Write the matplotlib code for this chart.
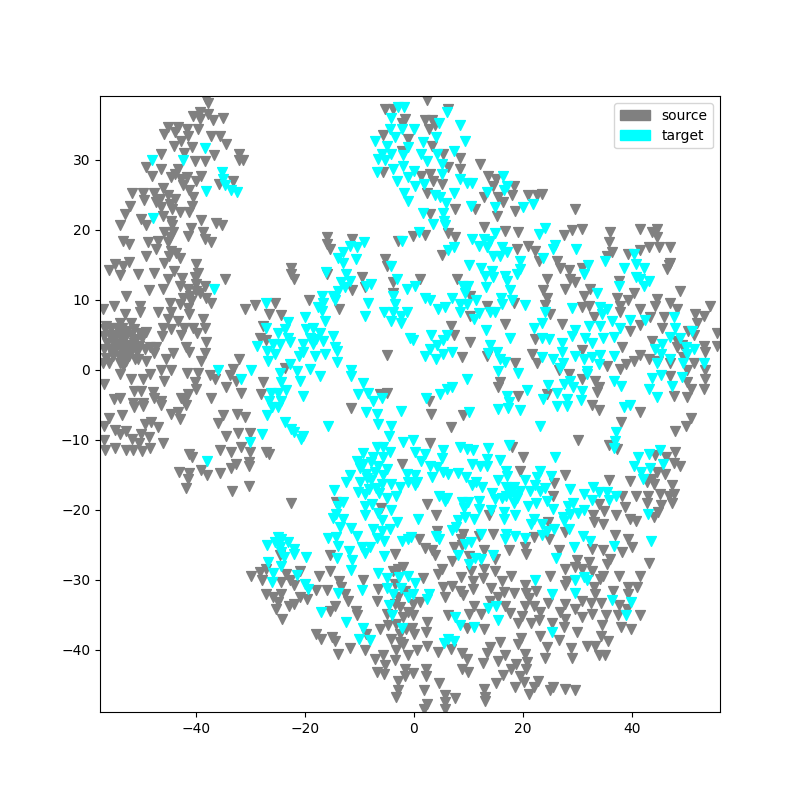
import numpy as np
import matplotlib
matplotlib.use("Agg")
import matplotlib.pyplot as plt
import matplotlib.patches as mpatches

source_upper_left = [(-38.2,38.7),(-37.8,38.1),(-39.3,36.8),(-40.5,36.3),(-39.3,35.8),(-37.8,36.5),(-35,35.9),(-36.9,35.6),(-45.1,34.6),(-43.3,34.6),(-41.6,34.4),(-39.6,34.4),(-45.8,33.7),(-43.9,33.9),(-41.5,33.4),(-37.2,33.4),(-35.6,33.4),(-42.7,32.7),(-44.1,32),(-34.5,32.2),(-40.8,31.8),(-42.1,31),(-46.4,30.8),(-36.7,30.6),(-32.1,30.8),(-32,29.9),(-31.4,29.9),(-40.2,29.8),(-38.4,29.8),(-49.1,29),(-46.4,28.7),(-43.3,28.7),(-44.5,27.5),(-48.1,27.6),(-42.7,27.2),(-39,27.7),(-39.9,27),(-33.2,27),(-35.8,26.5),(-46,26),(-41.2,25.6),(-51.8,25.3),(-49.7,25.2),(-47.6,25.3),(-49.6,24.3),(-45.1,24.9),(-43.9,24.4),(-40.5,24.6),(-47.3,23.9),(-44.8,23.7),(-52.1,23.4),(-40.7,23.4),(-46.4,23.3),(-43,22.5),(-41.2,22.5),(-53.1,22.2),(-50,21.5),(-46,22),(-39,21.4),(-53.9,20.7),(-49.1,20.6),(-36.3,21),(-35.2,20.6),(-44.3,20.6),(-40.9,20.3),(-45.8,19.6),(-38.7,19.6),(-41.5,19.1),(-44.8,18.9),(-53.4,18.4),(-52.2,18),(-48.8,18.2),(-47,18.4),(-45.1,18.2),(-37.2,18.2),(-38.4,18.6),(-47.3,17.2),(-44.5,17),(-49.1,16.3),(-43.6,16.7),(-43,15.9),(-45.8,15.3),(-52.2,15.4),(-54.8,15.1),(-39.9,15.1),(-56,14.3),(-53.3,14.8),(-54,13.5),(-50.7,13.7),(-47.6,13.8),(-44.1,14.1),(-42.5,13.1),(-40.2,13.2),(-34.7,13),(-45.1,12.9),(-43,12),(-39.9,12.2),(-38.4,12),(-41.5,11.5),(-46.1,11.5),(-48.6,11.4),(-39.3,11),(-52.8,10.6),(-42.4,10.3),(-38.1,10.3),(-44.8,9.6),(-40.9,9.8),(-37.2,9.5),(-55.1,9.1),(-50.3,9.1),(-57,8.7),(-43,9.4),(-47,8.2),(-44.5,8.2),(-50.3,8.3),(-41.2,7.9),(-53.1,7.9),(-45.1,7.2),(-38.7,7.2),(-43.3,7),(-54,6.7),(-51.9,6.7),(-56.5,6.3),(-46.1,6),(-42.1,6),(-40.5,6),(-38.4,6),(-44.5,5.8),(-40,11.2),(-41,10.6),(-41.4,8.8),(-39.6,13.8),(-44.4,22.9),(-46.6,24.4),(-44.6,21.3),(-44.2,19.7),(-45,16.2),(-39.8,5.2),(-42.8,5),(-46.2,4.8),(-43.8,27.9),(-41.7,27.5),(-42.3,26.4)]

source_dense_left = [(-56.6,5.8),(-55.5,6),(-54.5,5.9),(-53.5,6),(-52.6,5.6),(-51.4,5.8),(-50.3,5.2),(-49.2,5.4),(-56.8,4.8),(-55.8,5),(-54.9,4.8),(-54,5),(-53,4.7),(-52,4.9),(-51,4.4),(-49.9,4.6),(-56.4,3.8),(-55.2,4),(-54.3,3.7),(-53.3,4),(-52.4,3.6),(-51.4,3.8),(-50.4,3.4),(-56.9,3),(-55.8,3),(-54.8,2.8),(-53.8,3),(-52.8,2.7),(-51.8,2.9),(-50.8,2.5),(-49.4,2.9),(-55.2,2),(-54.2,2),(-53.2,1.9),(-52.2,2),(-51.2,1.6),(-56.5,1.7),(-54,1),(-52.8,1.2),(-48.5,3.2)]

source_lower_left = [(-38.1,3.9),(-41.9,3.2),(-41.2,2.5),(-38.4,2.4),(-47.3,3.2),(-47.6,2.4),(-44.2,2.4),(-45.4,1.5),(-39.1,1.3),(-49.1,1.3),(-50.7,1.5),(-55.9,1),(-57.1,1),(-53.4,0.6),(-48.5,-0.6),(-46.4,-0.1),(-44.5,-0.1),(-41.6,-0.4),(-39.6,-0.4),(-37.5,-0.8),(-54,-0.6),(-45.8,-1.6),(-52,-1.3),(-49.7,-1.3),(-56.8,-2.1),(-40.2,-1.8),(-39.9,-2.8),(-51.3,-3),(-50,-3),(-47.9,-3.2),(-41.5,-3.5),(-53.9,-4),(-55.1,-4.2),(-42.7,-4),(-37.2,-4.1),(-47.6,-4),(-51.6,-4.7),(-49.7,-4.7),(-46.4,-4.4),(-42.1,-4.4),(-51.3,-5.3),(-49.7,-5.2),(-46.4,-5),(-41.9,-5.1),(-55.9,-6.9),(-53.5,-6.4),(-56.8,-8),(-54.9,-8.6),(-52.8,-8.8),(-53.9,-9.2),(-49.4,-7.7),(-48.2,-7.5),(-47,-8.2),(-50,-9.2),(-48.6,-9.6),(-51.8,-9.9),(-56.8,-10.1),(-46,-10.5),(-54.8,-11.2),(-56.6,-11.5),(-52.8,-11.5),(-51.6,-11.4),(-49.9,-11.6),(-48.5,-11.2),(-50.5,-10.5),(-44.5,-6.3),(-43.3,-6.1),(-43,-7),(-35,-6.5),(-35.9,-7.6),(-32.5,-6.3),(-31,-6.8),(-34.5,-9.4),(-32.3,-9.1),(-30.1,-9.1),(-35.6,-11.4),(-33.6,-11.8),(-31.7,-11.1),(-30.1,-11.7),(-27.2,-11.7),(-26.6,-12.1),(-41.2,-12),(-40.8,-12.4),(-30.3,-13.2),(-30.3,-13.8),(-32.7,-13.4),(-33.5,-14),(-43.1,-14.6),(-41.3,-14.7),(-39,-14.3),(-38,-15),(-35.6,-14.7),(-41.5,-15.6),(-41.9,-16.9),(-33.3,-17.3),(-30.3,-16.6),(-22.5,-19),(-11.6,-5.4),(-36.5,-1.3),(-33.8,-0.8)]

source_middle = [(-16,18.9),(-11.4,18.7),(-16,18),(-15.4,17.2),(-2.9,18.4),(-5.3,15.8),(-5,14.8),(-22.6,14.6),(-22.6,13.7),(-21.9,12.9),(-16,13.7),(-9.6,13.2),(-11.3,11.4),(-9,11.8),(-3.9,11),(-3.8,12.5),(-19.2,10),(-13.8,8.7),(-25.5,9.6),(-29.2,9.2),(-30.9,8.7),(-26.6,7.9),(-24.3,7.8),(-27.6,6.2),(-28.3,4.6),(-27.1,4.3),(-5,2.1),(-32.1,1.5),(-33.2,0.1),(-23.7,0.3),(-32.6,-1.6),(-27.6,-1.8),(-34.5,-2.5),(-31.7,-3.3),(-28,-3.4),(-6.2,-3.5),(-5,-3.3),(-5.3,37.2),(-3.8,37.2),(-1.6,35.8),(-2.2,35.3),(-5.6,33.5),(-2.2,31.3),(-5.6,28.2),(-1,33)]

source_upper_right = [(2.4,38.6),(6.2,37.2),(2.1,35.6),(3.3,35.6),(3.9,34.9),(2.7,34.4),(3.3,32),(5.4,30.8),(8.4,30.3),(12.2,29.4),(6.3,28.9),(8.5,28.7),(13.6,27.7),(3,27.9),(1.4,27.7),(5.1,26.5),(3.6,27),(15.1,27.2),(14.6,26.3),(18.3,26.2),(18,24.9),(23.5,25.1),(22.6,24.9),(21,24.9),(12.8,24.6),(15.5,24.6),(16.3,23.9),(2.4,25.2),(7.6,23),(11.2,23),(18.6,22.7),(29.6,23),(15.2,22),(3,22.2),(12.8,20.4),(16.8,19.8),(19.2,19.6),(30.9,20.1),(29,20),(36,19.7),(41.6,20.1),(44.6,20.1),(43.7,19.6),(27.5,19.2),(6.3,19.5),(2.1,19.2),(-0.2,19.1),(7.6,18.9),(35.8,18.2),(44.6,18.9),(21,17.6),(22.3,17),(19,17.3),(5.2,16.4),(47.1,17.5),(45,17.5),(43.1,17.5),(41.6,17.1),(36.4,16.8),(35.5,16.3),(22.9,15.6),(26.3,15.6),(39.4,16.5),(47.1,15.3),(46.5,14.4),(46.9,15),(26.9,14.6),(28.4,14.3),(30.9,14.6),(7.9,13),(1.1,12.9),(28.7,13),(24.4,12.9),(29.6,12.5),(37.6,12.7),(27.8,11.5),(23.8,11.4),(48.8,11.3),(32.4,11.5),(40.4,11),(31.2,10.6),(24.4,10.3),(37.3,10.3),(44.6,10.1),(39.4,10),(47.1,9.5),(54.4,9.1),(10.3,10.6),(13.5,9.1),(18.3,9.5),(24.1,9.2),(30.9,8.9),(32.1,9.1),(37.9,9.1),(41.6,8.7),(44.3,9.1),(48.3,8.7),(37.9,8.2),(10.3,7.7),(25,7.9),(33,7.6),(51.7,7.9),(53.2,7.7),(43.4,7.5),(45.9,7.5),(16.8,6.6),(27.2,6.5),(41.6,6.4),(45.6,6),(52,6.7),(6.8,6.2),(39.7,5.6),(55.7,5.3),(51.4,4.9),(7.3,4.9),(10.3,4),(22.3,4.4),(43.7,4.1),(48.3,4.1),(53.2,3.4),(55.7,3.4),(48.3,3.2),(53.5,2.5),(38.2,3.2),(30.9,2.8),(21.7,2.2),(41.6,2.1),(22.6,1),(8.8,1.8),(13.4,2),(18.6,1),(40.4,1.3),(43.1,1.5),(51.4,1),(47.1,1),(35.5,0.6),(37.8,0.1),(26.6,-0.1),(53.5,-0.1),(50.2,-0.1),(28.4,-0.6),(47.1,-0.9),(53.5,-1.3),(30.9,-1.3),(33.3,-1.6),(15.8,-1.8),(15.4,-2.5),(33.9,-2.5),(50.2,-1.8),(50.8,-2.8),(53.2,-2.8),(47.7,-3.7),(19.2,-3.7),(24.4,-3.5),(50.2,-3.9),(33.6,-3.2),(2.7,-4.4),(49.5,1.8),(49.2,3.6),(44.9,1.2),(50.4,5.5),(39,0.8)]

source_lower_middle = [(-29.8,-29.4),(-28.3,-28.9),(-27.2,-28.4),(-27.9,-30.1),(-20.9,-28.7),(-23.5,-29.2),(-24.3,-30.3),(-22.8,-30.1),(-22,-30.8),(-27.2,-32.1),(-25.8,-32.5),(-24.3,-32),(-24.9,-33.2),(-25.3,-34.2),(-22.9,-33.7),(-20.9,-32.5),(-21.9,-33.4),(-19.6,-32.7),(-17.9,-31.5),(-24.2,-35.6),(-17.4,-29.4),(-15.4,-28.8),(-15.9,-31.4),(-13.7,-30.2),(-13.4,-31),(-12.7,-32.1),(-12,-33),(-9.4,-30.1),(-14.5,-33.7),(-15.4,-34.5),(-10.6,-34.4),(-10.4,-35.1),(-6.5,-31.3),(-6.8,-33),(-5,-34.9),(-17.9,-37.8),(-17,-38.4),(-15.1,-38.2),(-14.5,-38.8),(-11.7,-39.7),(-13.9,-40.6),(-9,-40),(-8.7,-37.7),(-6.2,-37),(-4.7,-36.5),(-4.1,-38.4),(-2.5,-38.9),(-3.2,-40.1),(-1,-40.8),(-5.6,-40.8),(-7.1,-41.3),(-3.5,-41.5),(-5.3,-42.2),(-6.8,-43.2),(-5.5,-43.4),(-1.6,-42.7),(-2.9,-44.4),(-1.6,-43.7),(-2.9,-45.8),(-3.2,-46.8),(-1.9,-35.3),(-2.5,-33.9),(-1,-34.6),(-2.9,-32.5),(-3.5,-30.6),(-2.9,-28.4),(-3.8,-28.7),(-1.9,-28.2),(-3.5,-26.3),(-15.4,-26.5),(-6,-19.7),(-2.2,-13.5),(-14.3,-18.9),(-24.6,-26.5),(-3.2,-36.3),(-1.4,-37),(-3.5,-33.5),(-1.6,-31.6),(-2,-39.2),(-2.6,-37.8)]

source_lower_right = [(3.2,-6.3),(9.1,-6.5),(6.8,-8.2),(33.9,-5.7),(32.7,-5.1),(41.5,-6),(38,-7.5),(50.9,-6.9),(49.9,-8.1),(47.9,-8.8),(30.1,-10),(35.8,-10.8),(37.3,-11.3),(18.1,-11.1),(2.9,-10.5),(20,-12.5),(48,-11.8),(44.3,-12.2),(46.2,-12.5),(47.7,-13.3),(48.8,-13.8),(46.1,-14.9),(44.6,-14.6),(43.7,-15.6),(42.8,-16.1),(44,-16.3),(47.4,-16.4),(19.5,-14.5),(27.7,-15),(35.9,-15.7),(39.7,-15.9),(25.8,-16.2),(25.5,-18.1),(38.2,-18.1),(40.8,-18.1),(42.9,-18.1),(45.1,-17.8),(46.8,-18),(47.7,-17.7),(33.9,-19.2),(42.8,-19.1),(47.4,-19.1),(45.4,-19.3),(38.8,-19.6),(35,-20.2),(37.1,-20.8),(32.9,-20.8),(44.9,-20.3),(44,-21),(39.6,-21.3),(40.8,-21.6),(33.1,-21.8),(34.8,-22.1),(2.5,-19.2),(4,-20.8),(13.8,-20.8),(24.6,-21.8),(4.2,-23.1),(9.1,-23.5),(11.9,-23.8),(14.5,-23.4),(22,-23.9),(24.9,-24.2),(27.8,-23.2),(37,-23.6),(39.3,-24.2),(1,-24.2),(8.6,-24.2),(2.1,-25.4),(3.3,-25.8),(3.8,-26.5),(7.4,-25.3),(8.8,-25.1),(12.8,-25.8),(17.5,-25.7),(20.4,-25.3),(20.6,-26.3),(26.7,-25.7),(32.7,-25.6),(34.7,-25.7),(38.2,-26),(40,-25.3),(7,-27.3),(10.2,-26.6),(14.9,-27.1),(29.9,-27.2),(32.1,-27.4),(36.1,-27.1),(43.1,-27.6),(27.8,-28.4),(29.6,-28.2),(30.9,-28.5),(35.5,-27.7),(5.1,-28.5),(12.8,-28.5),(14.9,-28.8),(10.5,-28.8),(4.5,-29.2),(32.7,-28.7),(34.8,-29.4),(37.7,-29.5),(41.5,-29.5),(25,-29.4),(8.7,-29.6),(12.7,-29.7),(17.8,-29.5),(1.6,-29.7),(16.1,-30.2),(28.1,-30.2),(34.2,-29.9),(10.8,-30.2),(5.4,-31.1),(7.1,-30.9),(14.2,-31.2),(20.4,-30.7),(27.8,-30.8),(33,-31.1),(39.4,-31),(41,-31.1),(8.4,-31.6),(10.8,-31.3),(16.5,-31.8),(18.3,-31.9),(22.5,-31.6),(20.6,-31.9),(36.5,-31.6),(9.1,-32.2),(5.7,-32.5),(15.5,-32.4),(30.9,-33),(33.3,-32),(39.3,-32),(21.2,-32.6),(14,-33),(24.6,-33.3),(27.8,-33.4),(32.6,-33.3),(34.3,-33.3),(1.1,-33.2),(-0.2,-33.4),(16.8,-33.8),(20.4,-33.7),(22.1,-33.7),(11.1,-33.8),(37.6,-33.6),(29.6,-34.2),(39.1,-34.2),(26.8,-34.6),(17.7,-34.7),(10.2,-34.9),(12.3,-34.9),(23.1,-34.6),(6.3,-35.1),(-0.2,-35),(41.6,-35),(35.3,-35.1),(32.7,-34.9),(30.9,-35.3),(37.4,-35.1),(19.8,-35.2),(27.8,-35.6),(22.9,-35.7),(2.4,-36.1),(21.5,-36.2),(19.1,-36.2),(25.3,-36.2),(34.5,-36.4),(27.6,-36.8),(-0.4,-36.9),(9.7,-36.9),(12.8,-37),(38,-36.8),(39.9,-37.1),(2.2,-37.5),(0,-37.7),(29.9,-37.4),(34.3,-38),(23.1,-38),(19.7,-38.3),(26.7,-38.6),(35.6,-38.7),(15.8,-38.9),(19.2,-39.2),(2.4,-39.4),(31.8,-39.4),(33.3,-39.4),(0.5,-40),(6.8,-39.9),(4.4,-40.3),(13.9,-39.6),(28.9,-39.7),(24.4,-39.6),(8.8,-40.5),(13.4,-40.5),(16.8,-40.8),(20.4,-40.6),(24.1,-41.2),(29,-41.2),(33.9,-40.8),(35.1,-40.8),(9.7,-41.3),(15.5,-41.6),(12.7,-41.9),(18.8,-42.1),(20.7,-41.8),(2.2,-42.7),(8.8,-42.7),(17.9,-42.8),(20.6,-42.8),(10,-43.2),(-0.2,-43.3),(2.2,-43.7),(16.3,-43.6),(19.5,-43.8),(22.8,-44.4),(4.6,-44.8),(15.1,-44.7),(20.3,-44.6),(22.1,-45.3),(25.6,-45.3),(27.8,-45.6),(29.6,-45.7),(12.9,-45.6),(18.6,-45.3),(1.8,-45.8),(25,-45.8),(21.2,-46.3),(5.7,-46.5),(7.6,-46.9),(13.1,-46.8),(5.7,-47.5),(2.5,-47.7),(1.9,-48.4),(5.7,-48.4),(13.1,-47.3)]

target_upper_left = [(-38.4,31.7),(-48.1,29.9),(-42.4,30),(-35.2,28.2),(-35,27.2),(-34.7,26.4),(-33.5,25.7),(-32.4,25.4),(-38.2,25.5),(-47.9,21.7),(-36.6,11.5),(-27.2,9.5)]

target_upper_center = [(-2.9,37.5),(-1.8,37.5),(-4.1,36),(-4.4,34.4),(-2.2,34.4),(-3.5,33.2),(-7.2,32.7),(-5,32),(-1,31.8),(-5.9,30.8),(-4.1,30.8),(-1.9,30.6),(-6.5,30.1),(-5.3,29.9),(-1.9,29.1),(-3.8,28.7),(-6.7,28.2),(-1,27.5),(-3,27),(-1.8,25.3),(-1,24.1),(6,36.8),(4.7,35.3),(8.5,35),(0,34.4),(9.4,32.7),(4.1,33.2),(1.6,32.5),(7.3,31.3),(4.2,30.8),(1.4,30.8),(2.4,29.8),(5.1,29.4),(0,28.4),(5.1,28),(8.5,27.2),(16.3,27.7),(10.6,26.7),(9.7,26.7),(17.1,26.3),(1.8,26.5),(0.2,26.3),(7.4,25.3),(13.5,25.4),(16.5,25.6),(3.9,24.9),(4.8,24.6),(5.9,23.8),(10.5,23.4),(14.9,23.2),(20.1,23.3),(21.9,23.7),(1.6,22.4),(5.4,22.4),(5.6,21.3),(3.5,20.8),(5.7,20.6)]

target_mid_left = [(-9.2,18.2),(-11.7,17.7),(-10.5,17.5),(-13,16.8),(-13.9,15.9),(-10.6,15.8),(-13,15.3),(-2.1,18.4),(-4.1,14.8),(-16.2,13.9),(-12.4,13.7),(-11.7,12.7),(-13.3,12.6),(-7.8,12.2),(-8.8,11.9),(-3,13),(-12.7,11.8),(-13.9,11.3),(-14.8,10.6),(-16.9,10.6),(-1.3,11.6),(-3.9,10.5),(-8.4,9.6),(-14.5,10),(-16.6,9.5),(-17.6,9),(-16.9,8.4),(-3.5,9.4),(-5.4,8.3),(-8.9,7.7),(-20,7.5),(-3.8,8.2),(-2.3,7.7),(-1.3,8.2),(-4.1,7),(-2.3,6.7),(-23.1,6.8),(-16.3,6.9),(-27.2,5.9),(-23.7,5.8),(-18.5,6),(-19.7,5.8),(-24.9,5.2),(-17.3,5.3),(-14.9,4.8),(-23.1,4.6),(-19.1,4.6),(-17.9,4.4),(-0.7,4.5),(-25.8,3.7),(-24.6,3.7),(-22.8,3.9),(-20.3,3.7),(-18.5,3.7),(-14.5,3.2),(-28.7,3.4),(-16.6,4.1),(-26.9,2.7),(-14.1,2.7),(-25.5,2.2),(-20.3,2.5),(-18.2,2),(-16.3,2.2),(-21,1.9),(-26.8,1.3),(-14.1,1.1),(-22.8,0.8),(-19.1,0.1),(-21.5,-0.2),(-35.9,0),(-29.9,-0.1),(-17.3,-0.9),(-11.6,-0.1),(-24.6,-0.5),(-31.8,-1.3),(-20.9,-1.6),(-11.6,-0.9),(-24.3,-1.8),(-9.3,-1.9),(-23.4,-2.9),(-26.3,-3.3),(-24.9,-3.3),(-10.2,-3.5),(-8.4,-3.3),(-20.3,-3.7),(-26.5,-4.4),(-24.3,-4.4),(-7.5,-4.4),(-5.9,-4),(-27,-6.5),(-26.1,-5.3),(-24.9,-5.3),(-23.7,-7.5),(-22.5,-8.4),(-22,-8.9),(-20.3,-9.5),(-20.7,-9.9),(-27.8,-9.2),(-15.7,-8.1),(-30.1,-10.3),(-38,-13),(-8.7,-6.1),(-6.7,-6.3),(-6.5,-7.7),(-2.4,-5.9),(-4.1,-8.1),(-4.5,-9.5)]

target_mid_right = [(24.1,20.3),(22.9,19.4),(0.9,19.6),(14.9,19.5),(10.6,18.6),(12.8,18.7),(14,18.4),(26,17.8),(11.9,17.7),(13.4,17.5),(7.3,17.5),(6.3,17.1),(16.1,17.5),(29.8,17.2),(25.5,17.2),(14.6,16.3),(17.1,16.8),(15.8,16.3),(23.8,16),(40.4,16.5),(35.1,15.5),(19.5,15.6),(40.7,15.1),(10.2,15),(12.4,14.6),(32,14.9),(38.5,14.6),(42.2,14.6),(19.5,14.4),(18.9,13.7),(31.2,13.7),(14.3,14.1),(13.1,13.4),(16.8,13.4),(14.6,13.2),(40.7,13.2),(43.1,12.7),(41.6,12.9),(42.2,12),(17.1,12.7),(37.6,12),(9.1,11.9),(10,12),(13.3,11.8),(17.7,11.4),(0.2,11.9),(9.4,11),(33.6,11),(2.1,10.2),(3,10),(7.1,10.3),(16,10.3),(18,10),(11.4,10),(5.7,9),(4.5,8.7),(8.5,9.4),(9.8,9.4),(16.1,9.4),(20.4,9.2),(29,8.8),(34.2,8.9),(35.5,8.7),(8.5,8.2),(11.9,8.1),(11,7.3),(14,8.2),(14.9,8.3),(24.1,8.2),(34.5,7.9),(39.6,7.1),(42.5,7.1),(47.7,7.5),(36.4,7),(23.5,6.7),(22,6),(34.2,6.3),(32.1,6.2),(48,6),(37.9,6),(13.3,5.7),(29.6,5.7),(51.1,5.6),(3.2,4.9),(6,5),(17.7,4.6),(29,4.8),(23.5,4.6),(24.9,4.4),(36.7,4.7),(34.7,4.6),(31.5,4.5),(47.1,4.7),(48.9,4.6),(-0.2,4.2),(5.4,4.2),(14,3.5),(27.2,3.8),(32.7,3.8),(45.6,3.7),(4.2,3.5),(44.3,2.9),(49.9,3.2),(51.4,2.9),(3,3),(27.2,2.6),(13.6,2.4),(15.2,2.5),(2.1,1.9),(7,2.5),(5.4,2.2),(29.6,1.9),(36.7,2),(34.1,2.1),(45.3,2.2),(23.5,1.8),(25.6,1.5),(31.2,1.5),(32.7,1.8),(4.1,1.5),(15.8,1.5),(50.2,2.2),(47.1,1.5),(44.6,1),(53.2,0.9),(27.4,1),(16.8,1.1),(33.9,0.8),(49.5,1),(26.9,0.3),(15.5,-0.2),(31.7,-0.2),(19.2,-0.5),(31.8,-0.6),(9.7,-1.3),(45.4,-0.8),(49.2,-1.1),(43.7,-1.2),(36.7,-1.6),(28.7,-1.6),(27.5,-2.1),(24.6,-2.2),(38,-2.3),(7,-2.4),(6,-2.8),(47.4,-2.3),(29.3,-2.5),(20.7,-2.9),(43.1,-2.8),(30.9,-3),(26.3,-3.3),(4.8,-3.5),(2.2,-4),(17.1,-3.7),(23.8,-4.2),(44.6,-3.9),(28.1,-4.2),(30.6,-4.3),(17.4,-4.6)]

target_lower_left = [(-1.9,-10.3),(-6.8,-11.1),(-5.6,-11),(-4.4,-11.8),(-9.3,-11.9),(-10.5,-13),(-5.6,-12.5),(-7.8,-13.2),(-9.3,-13.4),(-6.5,-13.7),(-5,-14.2),(-9.9,-14.1),(-11.7,-15),(-8.7,-14.9),(-7.2,-14.6),(-1.3,-14.9),(-5.6,-15.1),(-12.4,-16.1),(-9.9,-16.1),(-7.8,-15.8),(-5.9,-16.3),(-4.1,-16.3),(-2.6,-16.8),(-1,-16.1),(-14.6,-17.2),(-10.3,-17.5),(-9,-17.7),(-6.4,-17.6),(-3.2,-18),(-4.9,-18.3),(-13,-18.9),(-13.9,-19.4),(-8.9,-19.4),(-7.6,-19.2),(-6.5,-20.5),(-4.2,-20.1),(-14.2,-20.6),(-9,-20.8),(-14.9,-21.2),(-13,-21.3),(-5.9,-21.5),(-3,-21.8),(-13.6,-22.5),(-11.6,-22.6),(-7.5,-22.7),(-4.3,-22.7),(-5.9,-23),(-10.4,-23.7),(-15.7,-24),(-14.2,-23.9),(-6.8,-24.1),(-5.5,-24.5),(-2.2,-24.4),(-1,-24.2),(-13.9,-25.2),(-9.6,-25.3),(-8.1,-25.3),(-11.9,-25.9),(-9,-26.2),(-5.5,-26.6),(-14.1,-26.9),(-11.3,-27.2),(-11.6,-28.6),(-6.5,-29),(-5,-29.7),(-2.7,-29.6),(-1,-29.4),(-2.4,-31.2),(-5,-31.2),(-9.6,-31.4),(-14,-31.9),(-3.9,-32),(-1,-32.4),(-4.6,-33.6),(-4,-35),(-17.1,-34.6),(-12.5,-36),(-9.4,-36.9),(-2.1,-36.9),(-10,-38.4),(-8.1,-38.6),(-24.9,-23.9),(-24.3,-24.2),(-27,-25.1),(-25.5,-24.6),(-23.1,-24.6),(-24.6,-25.3),(-21.9,-25.6),(-24.3,-26.1),(-22,-26.3),(-23.9,-26.7),(-19.8,-26.8),(-26.8,-27.5),(-24.4,-28.1),(-25.9,-29.1),(-26,-30.3),(-21.4,-29.3),(-20,-30.6),(-19.4,-31.3),(-8.6,-15.5),(-6.9,-16.9),(-8.2,-17.1),(-7.4,-12.4),(-25,-24.8)]

target_lower_right = [(10.2,-6.1),(15.5,-5.6),(17.3,-5.4),(19.5,-5.8),(26.3,-5.2),(28.1,-5.2),(38.5,-5.3),(39.7,-5.1),(23.1,-8.1),(37.1,-8.9),(37,-10.2),(36.7,-11.2),(45.1,-11.4),(43.2,-12),(41.1,-12.5),(45.7,-13.5),(40.4,-13.8),(43.4,-14.1),(41.7,-14.6),(42.1,-15.6),(-0.1,-10),(0.2,-11.7),(5.4,-11.4),(8.5,-11.1),(9.7,-11.3),(10.9,-11.5),(13.6,-11.2),(17.5,-10.7),(2.1,-12.1),(1.4,-13),(5.2,-12.6),(13.5,-12.7),(15.8,-12.9),(26,-12.5),(10.6,-13.4),(3,-13.7),(4.2,-13.9),(12.2,-13.8),(13.4,-13.8),(5.4,-14.6),(6.3,-14.9),(8.1,-14.8),(17,-14.4),(23.1,-14.4),(0.2,-15.1),(3.3,-15.3),(9.6,-15.3),(17.1,-15.2),(22.6,-15.3),(25.2,-15.2),(0.6,-16.1),(11.4,-16.1),(15.5,-15.7),(20.4,-15.7),(10.6,-16.4),(12.5,-16.7),(17,-16.8),(18.3,-16.7),(22.3,-16.4),(24.1,-16.9),(0.2,-16.4),(28.6,-17.1),(32.9,-16.8),(19.5,-17.3),(21.4,-17.3),(23.1,-17.3),(14.3,-17.6),(17.7,-17.7),(31.3,-17.8),(33.9,-17.5),(35.5,-17.5),(37.1,-18),(4.7,-18),(6,-18.3),(14.9,-18.4),(16.1,-18.3),(18.9,-18.3),(24.4,-18.7),(32.7,-18.6),(35.8,-18.6),(8.8,-18.9),(10,-18.9),(12,-18.8),(5.7,-18.8),(18.3,-19.1),(22.5,-19),(29.3,-19),(9.3,-19.7),(11.9,-19.9),(21,-19.4),(28.3,-19.4),(14.2,-20),(25.5,-19.9),(31.2,-20),(30.2,-20.4),(43,-20.6),(16.6,-20.3),(18.6,-20.7),(28.7,-20.6),(9.4,-21),(27.4,-21),(11.1,-21.3),(16.6,-21.3),(22,-21.3),(0.8,-21.3),(8.2,-21.5),(27.5,-21.6),(21.5,-22.1),(23.6,-22.1),(7.8,-22.5),(7,-22.9),(28.4,-22.7),(25.8,-22.8),(24.4,-23),(12.4,-23.4),(17,-23.4),(18.6,-23.7),(23.6,-23.6),(4.1,-23.7),(20.4,-24.1),(16.8,-24.2),(4.7,-24.2),(31,-23.8),(32.4,-24.4),(43.5,-24.5),(-0.5,-23.9),(10.5,-24.6),(9.4,-24.9),(36.7,-25.2),(29.4,-25.3),(8.1,-26.5),(14.5,-26.4),(26.1,-26.9),(11.2,-26.9),(12.4,-27),(10.1,-27.8),(22.2,-30.1),(29.6,-30),(31.3,-29.6),(31.8,-30.1),(0.3,-30.4),(2.7,-32.1),(-0.1,-32),(2.4,-32.7),(25.3,-32.1),(29.6,-31.9),(36.4,-32.9),(39.9,-33.2),(39,-35),(15.1,-33.7),(13.7,-34.1),(7.5,-35.3),(15.5,-35.7),(8.5,-36.5),(11.1,-36.7),(25.3,-37.4),(6.3,-38.4),(7.4,-38.8),(5.6,-39.1),(17.8,-17.2),(16.9,-18.1),(18.4,-17.9)]

legend_labels = ["source", "target"]
colors = ["gray", "cyan"]

source = np.array(source_upper_left + source_dense_left + source_lower_left + source_middle
                  + source_upper_right + source_lower_middle + source_lower_right)
target = np.array(target_upper_left + target_upper_center + target_mid_left + target_mid_right
                  + target_lower_left + target_lower_right)

fig, ax = plt.subplots(figsize=(8, 8), dpi=100)
ax.scatter(source[:, 0], source[:, 1], c=colors[0], marker="v", s=50)
ax.scatter(target[:, 0], target[:, 1], c=colors[1], marker="v", s=50)
ax.set_xlim(-57.6, 56.2)
ax.set_ylim(-48.9, 39.1)
ax.legend(handles=[mpatches.Patch(color=c, label=l) for c, l in zip(colors, legend_labels)],
          loc="upper right", handlelength=2.2, borderaxespad=0.5, labelspacing=0.45)
fig.savefig("out.png", dpi=100)
